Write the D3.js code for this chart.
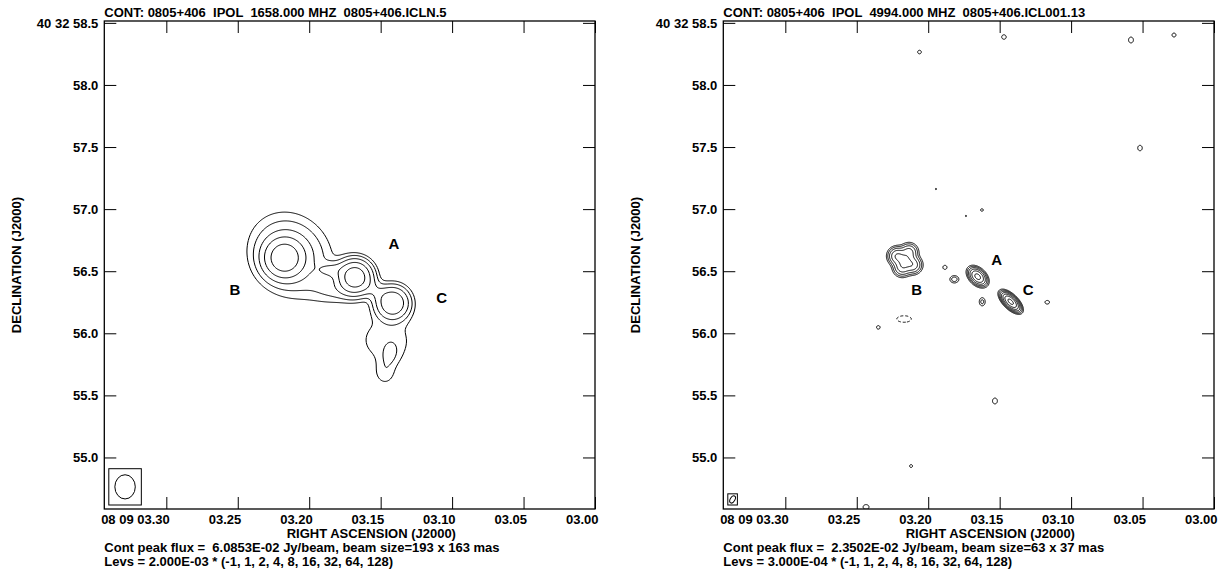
<!DOCTYPE html>
<html>
<head>
<meta charset="utf-8">
<script src="https://cdn.jsdelivr.net/npm/d3@7"></script>
<style>
  html, body { margin: 0; padding: 0; background: #fff; }
  svg text { font-family: "Liberation Sans", Arial, sans-serif; font-weight: bold; fill: #000; white-space: pre; }
</style>
</head>
<body>
<svg id="chart" width="1228" height="571"></svg>
<script>
// Map extent: RA in seconds of 08h09m, Dec in arcsec of +40d32m
const RA_LEFT = 3.3434, RA_RIGHT = 3.0;
const DEC_TOP = 58.515, DEC_BOTTOM = 54.585;
const DEC_DEG = 40 + 32 / 60 + 57 / 3600;

// Axis ticks
const raTicks = [3.30, 3.25, 3.20, 3.15, 3.10, 3.05, 3.00];
const raTickLabels = ['08 09 03.30', '03.25', '03.20', '03.15', '03.10', '03.05', '03.00'];
const decTicks = [58.5, 58.0, 57.5, 57.0, 56.5, 56.0, 55.5, 55.0];
const decTickLabels = ['40 32 58.5', '58.0', '57.5', '57.0', '56.5', '56.0', '55.5', '55.0'];
const levelMultipliers = [-1, 1, 2, 4, 8, 16, 32, 64, 128];

// 1658 MHz map (component peaks in units of the lowest contour, sizes FWHM in mas)
const lFreq = '1658.000';
const lFile = '0805+406.ICLN.5';
const lPeakFlux = 6.0853e-2;
const lBaseLevel = 2.0e-3;
const lBeam = [193, 163, 0];  // major, minor (mas), PA (deg)
const lCompRA   = [3.2176, 3.2134, 3.1848, 3.1680, 3.1416, 3.1547, 3.1820, 3.1463, 3.1435, 3.1470];
const lCompDec  = [56.606, 56.630, 56.510, 56.453, 56.244, 56.349, 56.349, 55.946, 55.825, 55.672];
const lCompPeak = [24, 6, 3.5, 26, 15, 2.5, 2, 1.5, 1.6, 1.3];
const lCompMaj  = [207, 452, 170, 179, 179, 188, 301, 414, 170, 151];
const lCompMin  = [207, 396, 94, 179, 179, 113, 170, 360, 113, 132];
const lCompPA   = [0, 40, 90, 0, 0, 55, 90, 90, -15, 0];
const lLabelNames = ['A', 'B', 'C'];
const lLabelRA  = [3.1407, 3.2519, 3.1073];
const lLabelDec = [56.725, 56.349, 56.290];

// 4994 MHz map
const rFreq = '4994.000';
const rFile = '0805+406.ICL001.13';
const rPeakFlux = 2.3502e-2;
const rBaseLevel = 3.0e-4;
const rBeam = [63, 37, -30];
const rCompRA   = [3.2218, 3.2134, 3.2106, 3.2183, 3.2162, 3.1654, 3.1423, 3.1817, 3.1883, 3.1622, 3.1167, 3.2169, 3.2349,
                   3.2061, 3.1470, 3.0581, 3.0280, 3.1946, 3.1736, 3.1624, 3.0518, 3.1533, 3.2120, 3.2435];
const rCompDec  = [56.622, 56.655, 56.550, 56.526, 56.582, 56.456, 56.254, 56.435, 56.531, 56.254, 56.250, 56.115, 56.048,
                   58.265, 58.386, 58.362, 58.402, 57.162, 56.945, 56.993, 57.492, 55.455, 54.931, 54.601];
const rCompPeak = [16, 10, 12, 10, 14, 40, 78, 3, 1.4, 2.5, 1.5, -1.3, 1.3,
                   1.5, 1.5, 1.6, 1.5, 1.1, 1.1, 1.3, 1.5, 1.6, 1.3, 1.6];
const rCompMaj  = [85, 85, 85, 85, 94, 95, 104, 57, 47, 57, 47, 188, 47,
                   38, 47, 57, 41, 28, 28, 34, 57, 57, 38, 57];
const rCompMin  = [85, 85, 85, 85, 94, 62, 49, 47, 47, 41, 38, 85, 47,
                   38, 47, 47, 41, 28, 28, 34, 47, 47, 38, 47];
const rCompPA   = [0, 0, 0, 0, 0, 45, 45, 90, 0, 0, 90, 90, 0,
                   0, 0, 0, 0, 0, 0, 0, 0, 0, 0, 90];
const rLabelNames = ['A', 'B', 'C'];
const rLabelRA  = [3.1521, 3.2081, 3.1300];
const rLabelDec = [56.590, 56.349, 56.349];

// layout
const frameW = 490.7, frameH = 488;
const panelX = [104.3, 723.3], panelY = 21;
const fontSize = '13px';

const fmtE = (v, d) => {
    const [m, e] = v.toExponential(d).split('e');
    const n = +e;
    return m + 'E' + (n < 0 ? '-' : '+') + String(Math.abs(n)).padStart(2, '0');
};

const svg = d3.select('#chart');

const x = d3.scaleLinear().domain([RA_LEFT, RA_RIGHT]).range([0, frameW]);
const y = d3.scaleLinear().domain([DEC_TOP, DEC_BOTTOM]).range([0, frameH]);
const cosd = Math.cos(DEC_DEG * Math.PI / 180);
const kx = frameW / ((RA_LEFT - RA_RIGHT) * 15 * cosd);  // px per arcsec
const ky = frameH / (DEC_TOP - DEC_BOTTOM);

// sum of elliptical gaussian components sampled on a grid
function buildGrid(p, res) {
    const n = Math.ceil(frameW * res) + 1, m = Math.ceil(frameH * res) + 1;
    const grid = new Float64Array(n * m);
    const a = 4 * Math.LN2;
    p.ra.forEach((ra, k) => {
        const cx = x(ra), cy = y(p.dec[k]);
        const maj = p.maj[k] / 1000, min = p.min[k] / 1000;
        const pa = p.pa[k] * Math.PI / 180;
        const s = Math.sin(pa), c = Math.cos(pa);
        const reach = maj * 2.2 * Math.max(kx, ky);
        const i0 = Math.max(0, Math.floor((cx - reach) * res)), i1 = Math.min(n - 1, Math.ceil((cx + reach) * res));
        const j0 = Math.max(0, Math.floor((cy - reach) * res)), j1 = Math.min(m - 1, Math.ceil((cy + reach) * res));
        for (let j = j0; j <= j1; j++) {
            const nn = -(j / res - cy) / ky;
            for (let i = i0; i <= i1; i++) {
                const e = -(i / res - cx) / kx;
                const u = e * s + nn * c, v = e * c - nn * s;
                grid[j * n + i] += p.peak[k] * Math.exp(-a * (u * u / (maj * maj) + v * v / (min * min)));
            }
        }
    });
    return {grid, n, m};
}

function drawPanel(p, idx) {
    const g = svg.append('g').attr('transform', `translate(${panelX[idx]},${panelY})`);

    g.append('clipPath').attr('id', 'clip' + idx)
        .append('rect').attr('width', frameW).attr('height', frameH);

    // contours
    const res = p.res;
    const {grid, n, m} = buildGrid(p, res);
    const proj = d3.geoIdentity().scale(1 / res).translate([-0.5 / res, -0.5 / res]);
    const path = d3.geoPath(proj);
    const levs = g.append('g').attr('clip-path', `url(#clip${idx})`);

    const posLevels = levelMultipliers.filter(d => d > 0);
    const negLevels = levelMultipliers.filter(d => d < 0).map(d => -d);
    levs.selectAll('path.pos')
        .data(d3.contours().size([n, m]).thresholds(posLevels)(grid))
        .enter().append('path')
        .attr('class', 'pos')
        .attr('d', path)
        .attr('fill', 'none')
        .attr('stroke', '#000')
        .attr('stroke-width', 1);
    const neg = grid.map(v => -v);
    levs.selectAll('path.neg')
        .data(d3.contours().size([n, m]).thresholds(negLevels)(neg))
        .enter().append('path')
        .attr('class', 'neg')
        .attr('d', path)
        .attr('fill', 'none')
        .attr('stroke', '#000')
        .attr('stroke-width', 1)
        .attr('stroke-dasharray', '3,2');

    // beam in lower-left corner
    const [bMaj, bMin, bPA] = p.beam;
    const ra = bMaj / 1000 / 2 * kx, rb = bMin / 1000 / 2 * kx;
    const t = bPA * Math.PI / 180;
    const hx = Math.sqrt((ra * Math.sin(t)) ** 2 + (rb * Math.cos(t)) ** 2);
    const hy = Math.sqrt((ra * Math.cos(t)) ** 2 + (rb * Math.sin(t)) ** 2);
    const pad = bMaj / 1000 * kx * 0.25;
    const bw = 2 * (hx + pad), bh = 2 * (hy + pad);
    const bx = 4.5, by = frameH - 4 - bh;
    g.append('rect')
        .attr('x', bx).attr('y', by).attr('width', bw).attr('height', bh)
        .attr('fill', 'none').attr('stroke', '#000').attr('stroke-width', 1);
    g.append('ellipse')
        .attr('cx', 0).attr('cy', 0).attr('rx', rb).attr('ry', ra)
        .attr('transform', `translate(${bx + bw / 2},${by + bh / 2}) rotate(${-bPA})`)
        .attr('fill', 'none').attr('stroke', '#000').attr('stroke-width', 1);

    // frame
    g.append('rect').attr('width', frameW).attr('height', frameH)
        .attr('fill', 'none').attr('stroke', '#000').attr('stroke-width', 1.3);

    // axes
    const axB = g.append('g').attr('transform', `translate(0,${frameH})`)
        .call(d3.axisBottom(x).tickValues(raTicks).tickSize(-12).tickPadding(5.5)
            .tickFormat((d, i) => raTickLabels[i]));
    axB.selectAll('text').attr('text-anchor', 'end').attr('dx', 3);
    const axT = g.append('g')
        .call(d3.axisTop(x).tickValues(raTicks).tickSize(-12).tickFormat(''));
    const axL = g.append('g')
        .call(d3.axisLeft(y).tickValues(decTicks).tickSize(-12).tickPadding(6)
            .tickFormat((d, i) => decTickLabels[i]));
    const axR = g.append('g').attr('transform', `translate(${frameW},0)`)
        .call(d3.axisRight(y).tickValues(decTicks).tickSize(-12).tickFormat(''));
    [axB, axT, axL, axR].forEach(a => {
        a.select('.domain').remove();
        a.selectAll('line').attr('stroke', '#000');
        a.attr('font-family', null).attr('font-size', null);
        a.selectAll('text').style('font-size', fontSize);
    });

    // component labels
    g.selectAll('text.lbl')
        .data(p.labels)
        .enter().append('text')
        .attr('class', 'lbl')
        .attr('x', (d, i) => x(p.labelRA[i]))
        .attr('y', (d, i) => y(p.labelDec[i]))
        .attr('dy', '0.35em')
        .attr('text-anchor', 'middle')
        .style('font-size', '15px')
        .text(d => d);

    // texts
    g.append('text').attr('x', 0).attr('y', -4).style('font-size', fontSize)
        .text(`CONT: 0805+406  IPOL  ${p.freq} MHZ  ${p.file}`);
    g.append('text')
        .attr('transform', `translate(${-88},${frameH / 2}) rotate(-90)`)
        .attr('text-anchor', 'middle').attr('dy', '0.35em').style('font-size', fontSize)
        .text('DECLINATION (J2000)');
    g.append('text').attr('x', 267).attr('y', frameH + 28.5)
        .attr('text-anchor', 'middle').style('font-size', fontSize)
        .text('RIGHT ASCENSION (J2000)');
    g.append('text').attr('x', 0).attr('y', frameH + 42.5).style('font-size', fontSize)
        .text(`Cont peak flux =  ${fmtE(p.peakFlux, 4)} Jy/beam, beam size=${bMaj} x ${bMin} mas`);
    g.append('text').attr('x', 0).attr('y', frameH + 57).style('font-size', fontSize)
        .text(`Levs = ${fmtE(p.base, 3)} * (${levelMultipliers.join(', ')})`);
}

drawPanel({
    freq: lFreq, file: lFile, peakFlux: lPeakFlux, base: lBaseLevel, beam: lBeam,
    ra: lCompRA, dec: lCompDec, peak: lCompPeak, maj: lCompMaj, min: lCompMin, pa: lCompPA,
    labels: lLabelNames, labelRA: lLabelRA, labelDec: lLabelDec, res: 1
}, 0);

drawPanel({
    freq: rFreq, file: rFile, peakFlux: rPeakFlux, base: rBaseLevel, beam: rBeam,
    ra: rCompRA, dec: rCompDec, peak: rCompPeak, maj: rCompMaj, min: rCompMin, pa: rCompPA,
    labels: rLabelNames, labelRA: rLabelRA, labelDec: rLabelDec, res: 2
}, 1);
</script>
</body>
</html>
